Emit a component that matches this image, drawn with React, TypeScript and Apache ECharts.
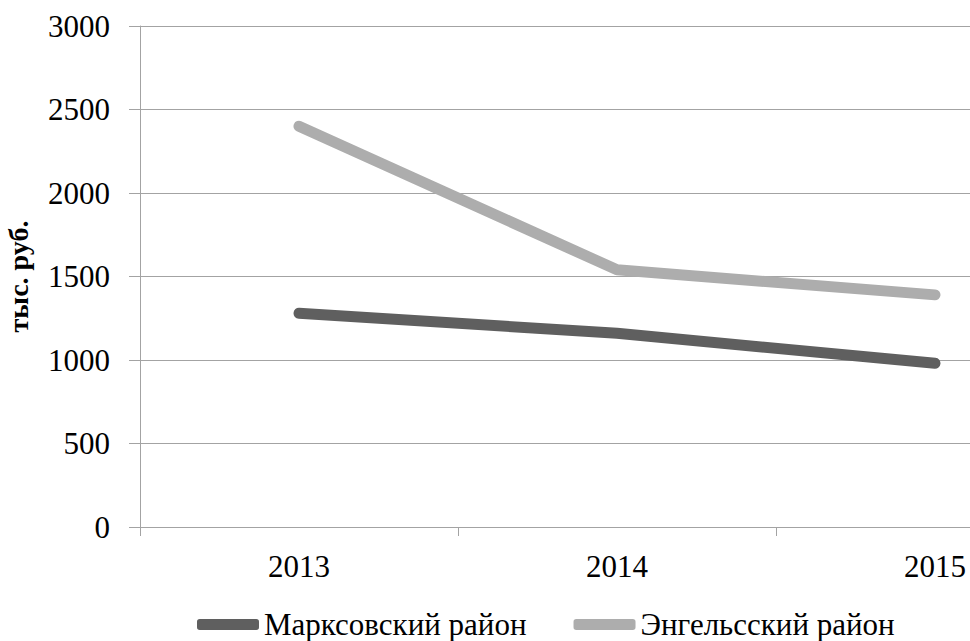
import React, { useEffect, useRef } from "react";
import * as echarts from "echarts";

const years = ["2013", "2014", "2015"];
const marksovsky = [1280, 1160, 980];
const engelssky = [2400, 1540, 1390];
const seriesNames = ["Марксовский район", "Энгельсский район"];
const yTicks = { min: 0, max: 3000, interval: 500 };
const yAxisTitle = "тыс. руб.";

const FONT = "'Liberation Serif', 'Times New Roman', serif";
const GRID_COLOR = "#a3a3a3";

export default function App() {
  const ref = useRef<HTMLDivElement>(null);
  useEffect(() => {
    if (!ref.current) return;
    const chart = echarts.init(ref.current, null, { renderer: "svg" });
    chart.setOption({
      animation: false,
      backgroundColor: "#ffffff",
      textStyle: { fontFamily: FONT },
      grid: {
        left: 140,
        top: 26,
        width: 954,
        height: 501,
        containLabel: false,
        outerBoundsMode: "none",
      },
      legend: {
        left: 197,
        top: 609,
        padding: 0,
        icon: "roundRect",
        itemWidth: 62,
        itemHeight: 11,
        itemGap: 47,
        textStyle: { fontFamily: FONT, fontSize: 31, lineHeight: 31, color: "#000" },
        data: seriesNames,
      },
      xAxis: {
        type: "category",
        data: years,
        boundaryGap: true,
        axisLine: { show: true, lineStyle: { color: GRID_COLOR, width: 1 } },
        axisTick: { show: true, length: 9, lineStyle: { color: GRID_COLOR } },
        axisLabel: { fontFamily: FONT, fontSize: 31, color: "#000", margin: 24 },
        splitLine: { show: false },
      },
      yAxis: {
        type: "value",
        min: yTicks.min,
        max: yTicks.max,
        interval: yTicks.interval,
        name: yAxisTitle,
        nameLocation: "middle",
        nameRotate: 90,
        nameGap: 108,
        nameTextStyle: { fontFamily: FONT, fontSize: 28, fontWeight: "bold", color: "#000" },
        axisLine: { show: true, lineStyle: { color: GRID_COLOR, width: 1 } },
        axisTick: { show: true, length: 11, lineStyle: { color: GRID_COLOR } },
        axisLabel: {
          fontFamily: FONT,
          fontSize: 31,
          color: "#000",
          margin: 30,
          formatter: (v: number) => String(v),
        },
        splitLine: { show: true, lineStyle: { color: GRID_COLOR, width: 1 } },
      },
      series: [
        {
          name: seriesNames[0],
          type: "line",
          data: marksovsky,
          showSymbol: false,
          symbol: "none",
          color: "#5f5f5f",
          lineStyle: { width: 11, color: "#5f5f5f", cap: "round", join: "round" },
        },
        {
          name: seriesNames[1],
          type: "line",
          data: engelssky,
          showSymbol: false,
          symbol: "none",
          color: "#adadad",
          lineStyle: { width: 11, color: "#adadad", cap: "round", join: "round" },
        },
      ],
    });
    return () => chart.dispose();
  }, []);
  return <div ref={ref} style={{ width: 970, height: 641, position: "absolute", left: 0, top: 0 }} />;
}
